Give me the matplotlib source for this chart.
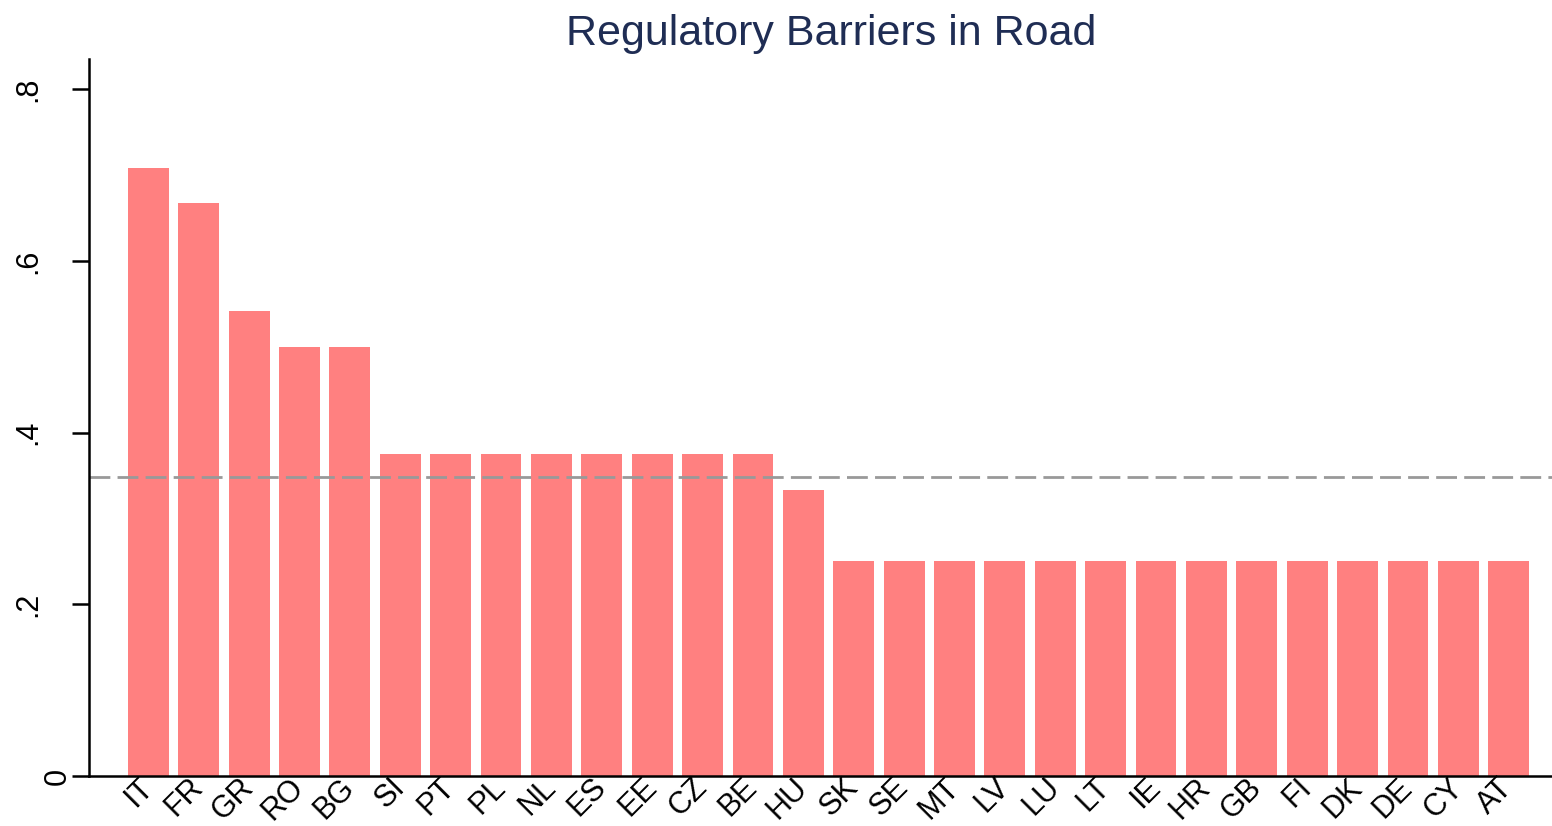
import numpy as np
import matplotlib.pyplot as plt

countries = ["IT", "FR", "GR", "RO", "BG", "SI", "PT", "PL", "NL", "ES", "EE", "CZ",
             "BE", "HU", "SK", "SE", "MT", "LV", "LU", "LT", "IE", "HR", "GB", "FI",
             "DK", "DE", "CY", "AT"]
barriers = [0.708, 0.667, 0.542, 0.5, 0.5, 0.375, 0.375, 0.375, 0.375, 0.375, 0.375, 0.375,
            0.375, 0.333, 0.25, 0.25, 0.25, 0.25, 0.25, 0.25, 0.25, 0.25, 0.25, 0.25,
            0.25, 0.25, 0.25, 0.25]

plt.rcParams["font.family"] = ["Liberation Sans", "DejaVu Sans"]

fig = plt.figure(figsize=(15.52, 8.26), dpi=100)
ax = fig.add_axes([0.0573, 0.0605, 0.9427, 0.868])

x = np.arange(len(countries))
ax.bar(x, barriers, width=0.81, color="#ff8080")
ax.axhline(np.mean(barriers), color="#999999", linestyle=(0, (7.5, 2.6)), linewidth=2)

ax.set_xlim(-1.18, 27.86)
ax.set_ylim(0, 0.835)
ax.set_yticks([0, 0.2, 0.4, 0.6, 0.8])
ax.set_yticklabels(["", ".2", ".4", ".6", ".8"], rotation=90, va="center", fontsize=22)
# the zero label sits closer to the axis in the original
ax.annotate("0", xy=(0, 0), xycoords="axes fraction", xytext=(-11.5, 0),
            textcoords="offset points", rotation=90, ha="right", va="center", fontsize=22)
ax.set_xticks(x)
ax.set_xticklabels(countries, rotation=45, ha="right", va="center",
                   rotation_mode="anchor", fontsize=22)
ax.tick_params(axis="x", length=0, pad=5)
ax.tick_params(axis="y", length=12, width=1.8, pad=21)

for side in ["top", "right"]:
    ax.spines[side].set_visible(False)
for side in ["left", "bottom"]:
    ax.spines[side].set_linewidth(1.8)

ax.set_title("Regulatory Barriers in Road", fontsize=31, color="#1f2d54", pad=10, x=0.5075)

fig.savefig("out.png", dpi=100)
